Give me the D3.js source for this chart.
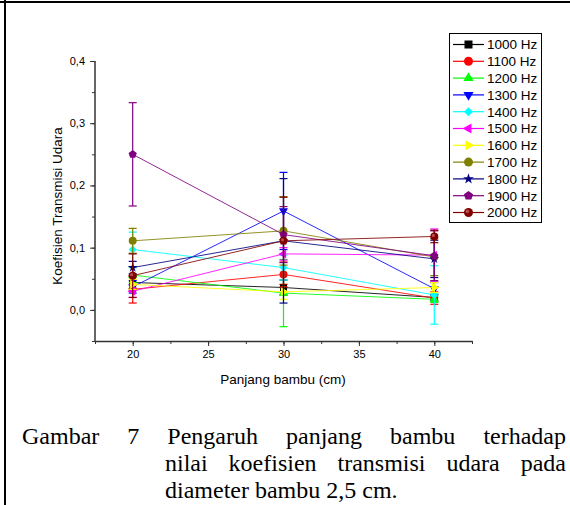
<!DOCTYPE html>
<html><head><meta charset="utf-8">
<script src="https://cdn.jsdelivr.net/npm/d3@7"></script>
<style>body{margin:0;background:#fff}svg{display:block}</style>
</head><body>
<script>
const xValues = [20, 30, 40];
const seriesNames = ["1000 Hz","1100 Hz","1200 Hz","1300 Hz","1400 Hz","1500 Hz","1600 Hz","1700 Hz","1800 Hz","1900 Hz","2000 Hz"];
const s1000 = [0.044, 0.036, 0.020];
const s1100 = [0.033, 0.057, 0.019];
const s1200 = [0.056, 0.027, 0.017];
const s1300 = [0.037, 0.159, 0.034];
const s1400 = [0.097, 0.068, 0.024];
const s1500 = [0.030, 0.090, 0.088];
const s1600 = [0.041, 0.029, 0.036];
const s1700 = [0.111, 0.127, 0.085];
const s1800 = [0.068, 0.111, 0.082];
const s1900 = [0.250, 0.121, 0.087];
const s2000 = [0.055, 0.111, 0.118];
const e1000 = [0.010, 0.012, 0.005];
const e1100 = [0.022, 0.020, 0.010];
const e1200 = [0.012, 0.054, 0.005];
const e1300 = [0.010, 0.062, 0.010];
const e1400 = [0.028, 0.020, 0.047];
const e1500 = [0.010, 0.010, 0.042];
const e1600 = [0.008, 0.012, 0.008];
const e1700 = [0.020, 0.055, 0.030];
const e1800 = [0.010, 0.100, 0.030];
const e1900 = [0.083, 0.045, 0.040];
const e2000 = [0.035, 0.070, 0.010];
const yTicks = [0.0, 0.1, 0.2, 0.3, 0.4];
const xTicks = [20, 25, 30, 35, 40];
const colors = ["#000000","#ff0000","#00ff00","#0000ff","#00ffff","#ff00ff","#ffff00","#808000","#000080","#800080","#800000"];
const shapes = ["square","circle","triUp","triDown","diamond","triLeft","triRight","circle","star","pentagon","ball"];
const values = [s1000,s1100,s1200,s1300,s1400,s1500,s1600,s1700,s1800,s1900,s2000];
const errors = [e1000,e1100,e1200,e1300,e1400,e1500,e1600,e1700,e1800,e1900,e2000];
const captionLines = [
  ["Gambar","7","Pengaruh","panjang","bambu","terhadap"],
  ["nilai","koefisien","transmisi","udara","pada"],
  ["diameter bambu 2,5 cm."]
];

const W = 570, H = 505;
const sans = "'Liberation Sans', Arial, sans-serif";
const svg = d3.select("body").append("svg").attr("width", W).attr("height", H);

// frame
svg.append("line").attr("x1",0).attr("x2",W).attr("y1",2).attr("y2",2).attr("stroke","#000").attr("stroke-width",2);
svg.append("line").attr("x1",5).attr("x2",5).attr("y1",0).attr("y2",H).attr("stroke","#000").attr("stroke-width",2);

const x = d3.scaleLinear().domain([17.5, 42.5]).range([95, 472]);
const y = d3.scaleLinear().domain([-0.05, 0.4]).range([341, 61]);

const axisColor = "#333";
const fmt = d => d3.format(".1f")(d).replace(".", ",");

function styleAxis(g) {
  g.selectAll("line").attr("stroke", axisColor);
  g.selectAll("path").attr("stroke", axisColor).attr("stroke-width",1.5);
  g.selectAll("text").attr("font-family", sans).attr("font-size",11).attr("fill","#000");
}

// y axis
const gy = svg.append("g").attr("transform","translate(95,0)");
gy.call(d3.axisLeft(y).tickValues(d3.range(-0.05, 0.4001, 0.05)).tickSize(3).tickFormat(""));
gy.call(g => g.select(".domain").remove());
const gy2 = svg.append("g").attr("transform","translate(95,0)")
  .call(d3.axisLeft(y).tickValues(yTicks).tickSize(5).tickSizeOuter(0).tickPadding(5).tickFormat(fmt));
gy2.select(".domain").attr("d", `M0,${y(0.4)}V${y(-0.05)}`);
styleAxis(gy); styleAxis(gy2);

// x axis
const gx = svg.append("g").attr("transform","translate(0,341)");
gx.call(d3.axisBottom(x).tickValues(d3.range(17.5, 42.51, 2.5)).tickSize(3).tickFormat(""));
gx.call(g => g.select(".domain").remove());
const gx2 = svg.append("g").attr("transform","translate(0,341)")
  .call(d3.axisBottom(x).tickValues(xTicks).tickSize(5).tickSizeOuter(0).tickPadding(4).tickFormat(d3.format("d")));
styleAxis(gx); styleAxis(gx2);

svg.append("text").attr("x", 283).attr("y", 384).attr("text-anchor","middle")
  .attr("font-family", sans).attr("font-size",13.5).text("Panjang bambu (cm)");
svg.append("text").attr("transform","translate(62,206) rotate(-90)").attr("text-anchor","middle")
  .attr("font-family", sans).attr("font-size",13.5).text("Koefisien Transmisi Udara");

// marker drawing
function drawMarker(g, shape, color, s) {
  const tri = d3.symbol().type(d3.symbolTriangle).size(s*s*0.55)();
  let el;
  switch (shape) {
    case "square": el = g.append("rect").attr("x",-s/2+0.5).attr("y",-s/2+0.5).attr("width",s-1).attr("height",s-1); break;
    case "circle": el = g.append("circle").attr("r", s/2); break;
    case "ball": el = g.append("circle").attr("r", s/2); break;
    case "triUp": el = g.append("path").attr("d", tri); break;
    case "triDown": el = g.append("path").attr("d", tri).attr("transform","rotate(180)"); break;
    case "triLeft": el = g.append("path").attr("d", tri).attr("transform","rotate(-90)"); break;
    case "triRight": el = g.append("path").attr("d", tri).attr("transform","rotate(90)"); break;
    case "diamond": el = g.append("path").attr("d", d3.symbol().type(d3.symbolSquare).size(s*s*0.5)()).attr("transform","rotate(45)"); break;
    case "star": el = g.append("path").attr("d", d3.symbol().type(d3.symbolStar).size(s*s*0.45)()); break;
    case "pentagon": {
      const r = s/2 + 0.3;
      const pts = d3.range(5).map(i => { const a = -Math.PI/2 + i*2*Math.PI/5; return [r*Math.cos(a), r*Math.sin(a)]; });
      el = g.append("path").attr("d", "M" + pts.join("L") + "Z"); break;
    }
  }
  el.attr("fill", color).attr("stroke", "none");
  if (shape === "ball") {
    g.append("circle").attr("r", s/5).attr("cx", -s/8).attr("cy", -s/8).attr("fill", "#c06060").attr("opacity",0.8);
  }
}

const plot = svg.append("g");
const line = d3.line().x((d,i) => x(xValues[i])).y(d => y(d));
values.forEach((vals, k) => {
  const c = colors[k];
  const g = plot.append("g");
  g.append("path").datum(vals).attr("d", line).attr("fill","none").attr("stroke", c).attr("stroke-width",1).attr("stroke-opacity",0.85);
  vals.forEach((v, i) => {
    const e = errors[k][i], cx = x(xValues[i]);
    g.append("line").attr("x1",cx).attr("x2",cx).attr("y1",y(v-e)).attr("y2",y(v+e)).attr("stroke",c).attr("stroke-width",1.2);
    [v-e, v+e].forEach(b => g.append("line").attr("x1",cx-4).attr("x2",cx+4).attr("y1",y(b)).attr("y2",y(b)).attr("stroke",c).attr("stroke-width",1.2));
  });
  vals.forEach((v, i) => {
    const m = g.append("g").attr("transform", `translate(${x(xValues[i])},${y(v)})`);
    drawMarker(m, shapes[k], c, 8);
  });
});

// legend
const lg = svg.append("g");
lg.append("rect").attr("x",449.5).attr("y",33.5).attr("width",92).attr("height",189).attr("fill","#fff").attr("stroke","#000").attr("stroke-width",1);
seriesNames.forEach((n, k) => {
  const yy = 44.5 + k*16.8;
  lg.append("line").attr("x1",453).attr("x2",484).attr("y1",yy).attr("y2",yy).attr("stroke",colors[k]).attr("stroke-width",1.2);
  const m = lg.append("g").attr("transform", `translate(468.5,${yy})`);
  drawMarker(m, shapes[k], colors[k], 9);
  lg.append("text").attr("x",487).attr("y",yy+4.8).attr("font-family", sans).attr("font-size",13.5).text(n);
});

// caption, justified lines
const capFont = "'Liberation Serif', 'Times New Roman', serif";
const capSize = 24;
function justify(words, x0, x1, base) {
  const g = svg.append("g");
  const nodes = words.map(w => g.append("text").attr("y", base).attr("font-family", capFont).attr("font-size", capSize).text(w));
  const widths = nodes.map(n => n.node().getComputedTextLength());
  const total = d3.sum(widths);
  const gap = words.length > 1 ? (x1 - x0 - total) / (words.length - 1) : 0;
  let cx = x0;
  nodes.forEach((n, i) => { n.attr("x", cx); cx += widths[i] + gap; });
}
justify(captionLines[0], 22, 566, 444);
justify(captionLines[1], 165, 566, 471);
svg.append("text").attr("x",165).attr("y",498).attr("font-family",capFont).attr("font-size",capSize).text(captionLines[2][0]);
</script>
</body></html>
